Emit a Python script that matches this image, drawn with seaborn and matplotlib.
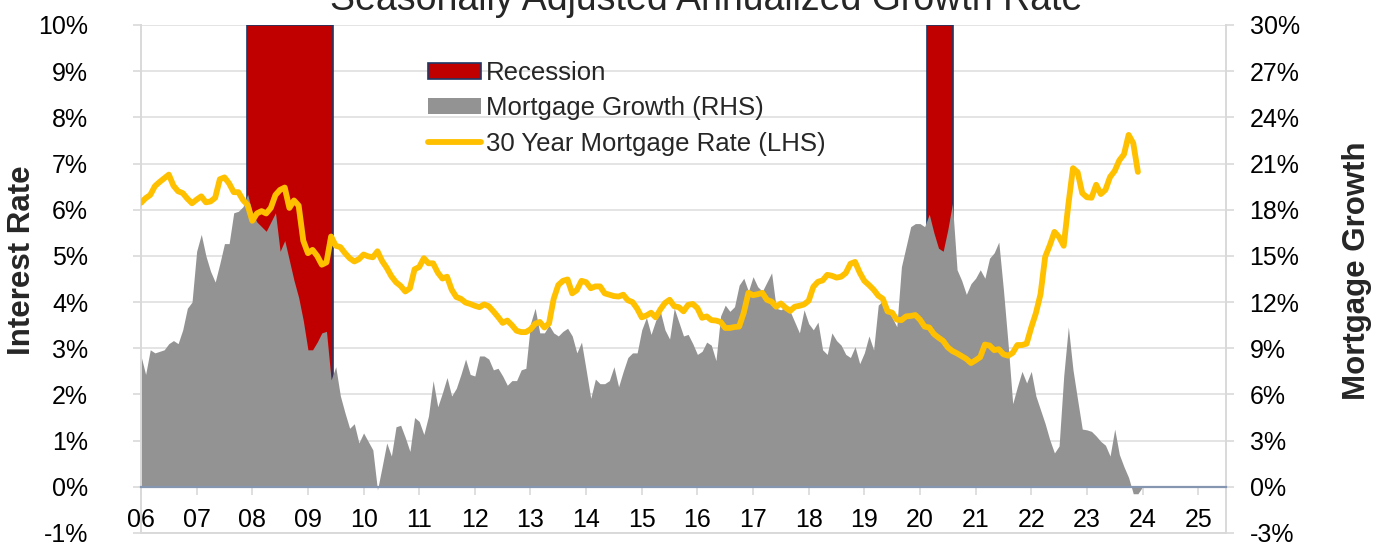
import matplotlib
matplotlib.use("Agg")
import matplotlib.pyplot as plt
import numpy as np
import pandas as pd
import seaborn as sns
from matplotlib.patches import Patch
from matplotlib.lines import Line2D

# ---------------- data ----------------
# 30 year mortgage rate (LHS, %), monthly Jan 2006 .. Dec 2023
mortgage_rate = [
    6.15, 6.25, 6.32, 6.51, 6.60, 6.68, 6.76, 6.52, 6.40, 6.36, 6.24, 6.14,
    6.22, 6.29, 6.16, 6.18, 6.26, 6.66, 6.70, 6.57, 6.38, 6.38, 6.21, 6.10,
    5.76, 5.92, 5.97, 5.92, 6.04, 6.32, 6.43, 6.48, 6.04, 6.20, 6.09, 5.33,
    5.06, 5.13, 5.00, 4.81, 4.86, 5.42, 5.22, 5.19, 5.06, 4.95, 4.88, 4.93,
    5.03, 4.99, 4.97, 5.10, 4.89, 4.74, 4.56, 4.43, 4.35, 4.23, 4.30, 4.71,
    4.76, 4.95, 4.84, 4.84, 4.64, 4.51, 4.55, 4.27, 4.11, 4.07, 3.99, 3.96,
    3.92, 3.89, 3.95, 3.91, 3.80, 3.68, 3.55, 3.60, 3.50, 3.38, 3.35, 3.35,
    3.41, 3.53, 3.57, 3.45, 3.54, 4.07, 4.37, 4.46, 4.49, 4.19, 4.26, 4.46,
    4.43, 4.30, 4.34, 4.34, 4.19, 4.16, 4.13, 4.12, 4.16, 4.04, 4.00, 3.86,
    3.67, 3.71, 3.77, 3.67, 3.84, 3.98, 4.05, 3.91, 3.89, 3.80, 3.94, 3.96,
    3.87, 3.66, 3.69, 3.61, 3.60, 3.57, 3.44, 3.44, 3.46, 3.47, 3.77, 4.20,
    4.15, 4.17, 4.20, 4.05, 4.01, 3.90, 3.97, 3.88, 3.81, 3.90, 3.92, 3.95,
    4.03, 4.33, 4.44, 4.47, 4.59, 4.57, 4.53, 4.55, 4.63, 4.83, 4.87, 4.64,
    4.46, 4.37, 4.27, 4.14, 4.07, 3.80, 3.77, 3.62, 3.61, 3.69, 3.70, 3.72,
    3.62, 3.47, 3.45, 3.31, 3.23, 3.16, 3.02, 2.94, 2.89, 2.83, 2.77, 2.68,
    2.74, 2.81, 3.08, 3.06, 2.96, 2.98, 2.87, 2.84, 2.90, 3.07, 3.07, 3.10,
    3.45, 3.76, 4.17, 4.98, 5.23, 5.52, 5.41, 5.22, 6.11, 6.90, 6.81, 6.36,
    6.27, 6.26, 6.54, 6.34, 6.43, 6.71, 6.84, 7.07, 7.20, 7.62, 7.44, 6.82,
]

# Mortgage growth, SAAR (RHS, %), monthly Jan 2006 .. Jan 2024
mortgage_growth = [
    8.5, 7.3, 8.9, 8.7, 8.8, 8.9, 9.3, 9.5, 9.3, 10.2, 11.6, 12.0,
    15.3, 16.4, 15.0, 14.0, 13.3, 14.5, 15.8, 15.8, 17.8, 17.9, 18.2, 19.0,
    17.8, 17.2, 16.9, 16.6, 17.2, 17.8, 15.3, 16.0, 14.7, 13.4, 12.3, 10.8,
    8.9, 8.9, 9.4, 10.0, 10.1, 6.95, 7.8, 5.9, 4.8, 3.8, 4.1, 2.85,
    3.5, 2.95, 2.4, -0.2, 1.3, 2.85, 2.0, 3.9, 4.0, 3.2, 2.3, 4.5,
    4.25, 3.4, 4.6, 6.9, 5.2, 6.1, 7.1, 5.9, 6.4, 7.3, 8.3, 7.3,
    7.2, 8.5, 8.5, 8.3, 7.6, 7.7, 7.2, 6.6, 6.9, 6.9, 7.6, 7.7,
    10.6, 11.6, 10.0, 10.0, 10.5, 10.0, 9.8, 10.1, 10.3, 9.8, 8.7, 9.4,
    7.6, 5.75, 7.0, 6.7, 6.7, 6.9, 7.8, 6.5, 7.5, 8.4, 8.7, 8.7,
    10.2, 11.0, 9.9, 10.8, 11.4, 10.2, 9.6, 11.6, 10.7, 9.8, 9.9, 9.3,
    8.6, 8.8, 9.4, 9.2, 8.2, 11.1, 11.8, 11.4, 11.7, 13.1, 13.55, 12.7,
    13.65, 13.0, 12.7, 13.3, 13.9, 11.6, 11.5, 11.7, 11.4, 10.7, 10.0, 11.5,
    10.6, 10.2, 10.7, 8.9, 8.6, 10.0, 9.5, 9.2, 8.6, 8.4, 9.1, 8.0,
    8.7, 9.8, 8.9, 11.8, 12.1, 11.8, 11.0, 10.4, 14.3, 15.6, 16.9, 17.1,
    17.1, 16.9, 17.7, 16.5, 15.5, 15.3, 16.7, 18.4, 14.1, 13.4, 12.5, 13.2,
    13.55, 14.1, 13.55, 14.85, 15.2, 15.9, 12.8, 9.3, 5.4, 6.5, 7.5, 6.75,
    7.5, 5.9, 5.0, 4.1, 3.05, 2.2, 2.65, 7.2, 10.4, 7.6, 5.65, 3.75,
    3.7, 3.6, 3.3, 2.95, 2.7, 2.0, 3.75, 2.1, 1.3, 0.6, -0.45, -0.45,
    0.0,
]

recession_start = [2007.90, 2020.13]
recession_end = [2009.45, 2020.60]
recession_level = 30  # top of chart on RHS scale

year_ticks = list(range(2006, 2026))
year_labels = ["06", "07", "08", "09", "10", "11", "12", "13", "14", "15",
               "16", "17", "18", "19", "20", "21", "22", "23", "24", "25"]
left_ticks = list(range(-1, 11))
right_ticks = list(range(-3, 31, 3))

legend_labels = ["Recession", "Mortgage Growth (RHS)", "30 Year Mortgage Rate (LHS)"]

# ---------------- style ----------------
sns.set_theme(style="white")
plt.rcParams["font.family"] = ["Liberation Sans", "DejaVu Sans"]

RED = "#C00000"
NAVY = "#1F3864"
GRAY = "#939393"
GOLD = "#FFC000"
GRID = "#E4E4E4"
FRAME = "#D9D9D9"
ZERO = "#8496B0"

rate_df = pd.DataFrame({
    "date": 2006 + np.arange(len(mortgage_rate)) / 12.0,
    "rate": mortgage_rate,
})
growth_df = pd.DataFrame({
    "date": 2006 + np.arange(len(mortgage_growth)) / 12.0,
    "growth": mortgage_growth,
})

fig = plt.figure(figsize=(13.9, 5.44), dpi=100)
fig.patch.set_facecolor("white")

# back axes: RHS scale (grid, recession, mortgage growth)
ax2 = fig.add_axes([141 / 1390, 1 - 533 / 544, 1085 / 1390, 508 / 544])
# front axes: LHS scale (mortgage rate)
ax = ax2.twinx()
ax.xaxis.set_visible(True)

ax2.set_xlim(2006, 2025.5)
ax2.set_ylim(-3, 30)
ax.set_ylim(-1, 10)

ax2.set_axisbelow(True)
ax2.yaxis.tick_right()
ax2.set_yticks(right_ticks)
ax2.set_yticklabels([f"{t}%" for t in right_ticks])
ax2.grid(axis="y", color=GRID, lw=1.4)
ax2.grid(axis="x", visible=False)
for side in ["left", "right", "bottom"]:
    ax2.spines[side].set_visible(True)
    ax2.spines[side].set_color(FRAME)
    ax2.spines[side].set_linewidth(1.4)
ax2.spines["top"].set_visible(False)
ax2.tick_params(axis="y", which="major", right=True, left=False, labelright=True,
                labelleft=False, length=6, width=1.2, color=FRAME, labelsize=18,
                pad=11, labelcolor="black")
ax2.tick_params(axis="x", bottom=False, labelbottom=False)

for s, e in zip(recession_start, recession_end):
    ax2.fill_between([s, e], 0, recession_level, facecolor=RED,
                     edgecolor=NAVY, linewidth=1.2, zorder=1)
ax2.fill_between(growth_df["date"], 0, growth_df["growth"], color=GRAY,
                 linewidth=0, zorder=2)

# front axes
ax.patch.set_visible(False)
for side in ["left", "right", "top"]:
    ax.spines[side].set_visible(False)
ax.spines["bottom"].set_visible(True)
ax.spines["bottom"].set_position(("data", 0))
ax.spines["bottom"].set_color(ZERO)
ax.spines["bottom"].set_linewidth(1.6)
ax.spines["bottom"].set_zorder(5)

sns.lineplot(data=rate_df, x="date", y="rate", ax=ax, color=GOLD,
             linewidth=4.2, zorder=4)
ax.set_xlim(2006, 2025.5)
ax.set_ylim(-1, 10)
ax.set_xlabel("")
ax.set_ylabel("")
ax.yaxis.tick_left()
ax.set_yticks(left_ticks)
ax.set_yticklabels([f"{t}%" for t in left_ticks])
ax.xaxis.tick_bottom()
ax.set_xticks(year_ticks)
ax.set_xticklabels(year_labels)
ax.tick_params(axis="y", left=True, right=False, labelleft=True, labelright=False,
               length=6, width=1.2, color=FRAME, labelsize=18, pad=32,
               labelcolor="black")
ax.tick_params(axis="x", bottom=True, top=False, labelbottom=True, length=6,
               width=1.2, color=FRAME, direction="out", labelsize=18, pad=9,
               labelcolor="black")
ax.grid(False)

# legend
handles = [
    Patch(facecolor=RED, edgecolor=NAVY, linewidth=1.2),
    Patch(facecolor=GRAY, edgecolor="none"),
    Line2D([0], [0], color=GOLD, linewidth=4.2),
]
ax.legend(handles, legend_labels, loc="upper left",
          bbox_to_anchor=(428 / 1390, 1 - 61 / 544), bbox_transform=fig.transFigure,
          frameon=False, fontsize=18.5, handlelength=2.05, handleheight=0.6,
          labelspacing=0.44, handletextpad=0.2, borderpad=0, borderaxespad=0)

# axis titles and (clipped) chart title
fig.text(22 / 1390, 1 - 260 / 544, "Interest Rate", rotation=90, ha="center",
         va="center", fontsize=22.5, fontweight="bold")
fig.text(1357 / 1390, 1 - 271 / 544, "Mortgage Growth", rotation=90, ha="center",
         va="center", fontsize=22.5, fontweight="bold")
fig.text(706 / 1390, 1 - 10 / 544, "Seasonally Adjusted Annualized Growth Rate",
         ha="center", va="baseline", fontsize=27)

fig.savefig("out.png", dpi=100, facecolor="white")
